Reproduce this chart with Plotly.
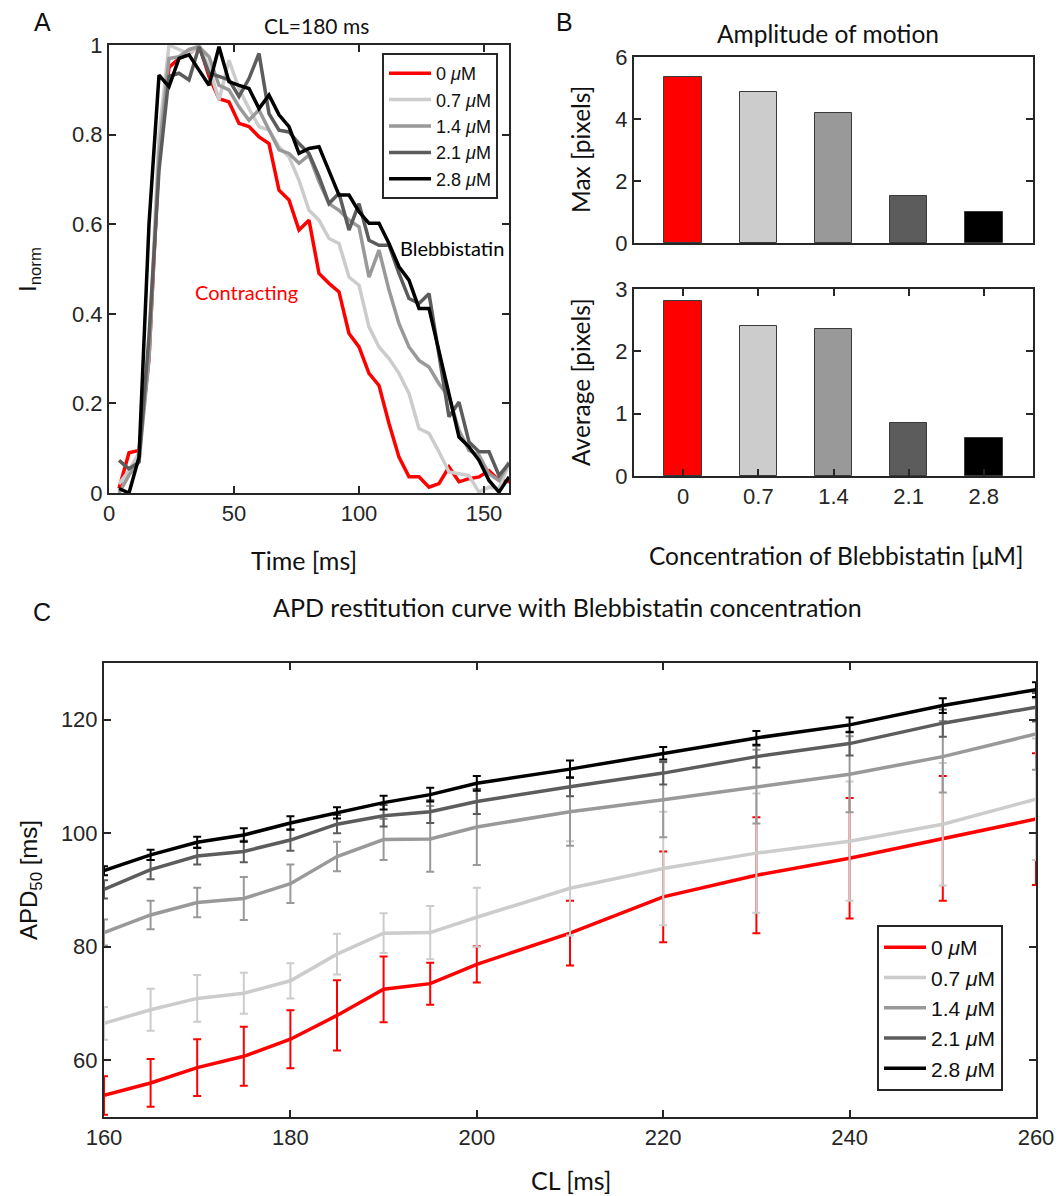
import plotly.graph_objects as go

W, H = 1061, 1196

# ---------------- Data ----------------
conc_labels = ["0", "0.7", "1.4", "2.1", "2.8"]
legend_names = ["0 <i>μ</i>M", "0.7 <i>μ</i>M", "1.4 <i>μ</i>M", "2.1 <i>μ</i>M", "2.8 <i>μ</i>M"]
colors = ["#FF0000", "#CCCCCC", "#999999", "#5C5C5C", "#000000"]

# Panel A: normalized intensity traces, CL = 180 ms
time_ms = list(range(4, 161, 4))
inorm_0 = [0.01, 0.09, 0.095, 0.30, 0.75, 0.95, 0.97, 0.98, 1.0, 0.93, 0.88, 0.873, 0.825, 0.818,
           0.795, 0.78, 0.676, 0.654, 0.587, 0.609, 0.49, 0.468, 0.449, 0.356, 0.326, 0.267, 0.24,
           0.155, 0.08, 0.036, 0.036, 0.013, 0.021, 0.058, 0.025, 0.032, 0.036, 0.05, 0.028, 0.025]
inorm_07 = [0.02, 0.05, 0.09, 0.32, 0.80, 1.0, 0.99, 0.98, 1.0, 0.95, 0.877, 0.966, 0.903, 0.858,
            0.818, 0.81, 0.773, 0.75, 0.698, 0.631, 0.609, 0.568, 0.557, 0.482, 0.464, 0.371, 0.326,
            0.30, 0.267, 0.222, 0.144, 0.133, 0.092, 0.047, 0.043, 0.039, 0.002, 0.013, 0.01, 0.066]
inorm_14 = [0.0, 0.04, 0.07, 0.30, 0.76, 0.97, 0.974, 0.99, 0.996, 0.974, 0.91, 0.90, 0.862, 0.832,
            0.855, 0.81, 0.766, 0.758, 0.736, 0.754, 0.695, 0.646, 0.631, 0.609, 0.594, 0.482, 0.542,
            0.453, 0.378, 0.326, 0.296, 0.281, 0.244, 0.214, 0.14, 0.095, 0.084, 0.043, 0.028, 0.069]
inorm_21 = [0.073, 0.054, 0.069, 0.35, 0.72, 0.93, 0.937, 0.922, 0.996, 0.937, 0.93, 0.922, 0.885, 0.925,
            0.981, 0.847, 0.81, 0.806, 0.78, 0.758, 0.706, 0.646, 0.669, 0.587, 0.646, 0.564, 0.553,
            0.553, 0.49, 0.434, 0.423, 0.445, 0.308, 0.17, 0.203, 0.114, 0.092, 0.092, 0.039, 0.066]
inorm_28 = [0.01, 0.0, 0.08, 0.60, 0.933, 0.907, 0.97, 0.978, 0.944, 0.91, 0.996, 0.918, 0.91, 0.903,
            0.858, 0.888, 0.844, 0.818, 0.758, 0.769, 0.773, 0.721, 0.665, 0.665, 0.628, 0.602, 0.602,
            0.557, 0.505, 0.475, 0.412, 0.412, 0.319, 0.222, 0.125, 0.103, 0.073, 0.028, 0.002, 0.036]
traces_a = [inorm_0, inorm_07, inorm_14, inorm_21, inorm_28]

# Panel B: amplitude of motion
max_pixels = [5.36, 4.875, 4.18, 1.52, 0.99]
avg_pixels = [2.80, 2.41, 2.357, 0.857, 0.616]

# Panel C: APD50 restitution
cl_ms = [160, 165, 170, 175, 180, 185, 190, 195, 200, 210, 220, 230, 240, 250, 260]
apd_0 = [53.8, 56.0, 58.7, 60.7, 63.7, 67.9, 72.5, 73.5, 76.9, 82.4, 88.8, 92.6, 95.6, 99.1, 102.5]
err_0 = [3.4, 4.2, 5.0, 5.2, 5.1, 6.2, 5.8, 3.7, 3.2, 5.7, 8.0, 10.2, 10.6, 11.0, 11.6]
apd_07 = [66.5, 68.9, 70.9, 71.8, 74.0, 78.7, 82.4, 82.5, 85.2, 90.3, 93.8, 96.5, 98.6, 101.6, 106.0]
err_07 = [2.9, 3.7, 4.1, 3.6, 3.1, 3.6, 3.5, 4.7, 5.2, 8.3, 10.0, 10.5, 10.5, 10.8, 10.7]
apd_14 = [82.5, 85.6, 87.8, 88.5, 91.1, 95.9, 98.9, 99.0, 101.1, 103.8, 105.9, 108.2, 110.4, 113.5, 117.5]
err_14 = [2.3, 2.5, 2.6, 3.8, 3.4, 2.6, 3.6, 5.8, 6.7, 6.0, 6.6, 6.5, 6.7, 6.3, 6.3]
apd_21 = [90.1, 93.6, 96.0, 96.8, 98.8, 101.6, 103.1, 103.8, 105.6, 108.2, 110.6, 113.5, 115.8, 119.4, 122.2]
err_21 = [1.6, 1.7, 1.5, 1.9, 1.9, 1.6, 1.9, 2.0, 2.2, 1.7, 2.0, 1.9, 2.1, 2.4, 2.5]
apd_28 = [93.4, 96.2, 98.4, 99.7, 101.8, 103.6, 105.4, 106.8, 108.8, 111.3, 114.1, 116.8, 119.1, 122.5, 125.3]
err_28 = [0.8, 0.9, 1.0, 1.2, 1.2, 1.0, 1.2, 1.2, 1.3, 1.5, 1.1, 1.2, 1.3, 1.3, 1.3]
apd_series = [apd_0, apd_07, apd_14, apd_21, apd_28]
err_series = [err_0, err_07, err_14, err_21, err_28]

# ---------------- Figure ----------------
AX = "#262626"
SANS = "Liberation Sans"
LABFONT = "Lato"
TICKFONT = dict(family=SANS, size=22, color="#262626")


def xd(x0, x1):
    return [x0 / W, x1 / W]


def yd(y_top, y_bot):
    return [1 - y_bot / H, 1 - y_top / H]


fig = go.Figure()

# Panel A lines
for vals, name, col in zip(traces_a, legend_names, colors):
    fig.add_trace(go.Scatter(x=time_ms, y=vals, mode="lines", name=name,
                             line=dict(color=col, width=3.5), xaxis="x", yaxis="y",
                             legend="legend"))

# Panel B bars
bar_pos = list(range(len(conc_labels)))
fig.add_trace(go.Bar(x=bar_pos, y=max_pixels, width=0.5,
                     marker=dict(color=colors, line=dict(color="#3a3a3a", width=1)),
                     xaxis="x2", yaxis="y2", showlegend=False))
fig.add_trace(go.Bar(x=bar_pos, y=avg_pixels, width=0.5,
                     marker=dict(color=colors, line=dict(color="#3a3a3a", width=1)),
                     xaxis="x3", yaxis="y3", showlegend=False))

# Panel C lines with error bars
for vals, errs, name, col in zip(apd_series, err_series, legend_names, colors):
    fig.add_trace(go.Scatter(x=cl_ms, y=vals, mode="lines", name=name,
                             line=dict(color=col, width=3.5),
                             error_y=dict(type="data", array=errs, color=col, thickness=2, width=4),
                             xaxis="x4", yaxis="y4", legend="legend2"))

common = dict(showline=True, linecolor=AX, linewidth=2, mirror="ticks", ticks="inside",
              tickcolor=AX, tickwidth=2, ticklen=7, showgrid=False, zeroline=False,
              tickfont=TICKFONT, automargin=False)

fig.update_layout(
    width=W, height=H, margin=dict(l=0, r=0, t=0, b=0, autoexpand=False),
    paper_bgcolor="white", plot_bgcolor="white",
    xaxis=dict(domain=xd(109, 509), range=[0, 160], tickvals=[0, 50, 100, 150], anchor="y", **common),
    yaxis=dict(domain=yd(45, 493), range=[0, 1], tickvals=[0, 0.2, 0.4, 0.6, 0.8, 1],
               ticktext=["0", "0.2", "0.4", "0.6", "0.8", "1"], anchor="x", **common),
    xaxis2=dict(domain=xd(634, 1033), range=[-0.655, 4.655], tickvals=bar_pos, showticklabels=False,
                anchor="y2", **{**common, "ticks": ""}),
    yaxis2=dict(domain=yd(57, 243), range=[0, 6], tickvals=[0, 2, 4, 6], anchor="x2", **common),
    xaxis3=dict(domain=xd(634, 1033), range=[-0.655, 4.655], tickvals=bar_pos, ticktext=conc_labels,
                anchor="y3", **common),
    yaxis3=dict(domain=yd(289, 476), range=[0, 3], tickvals=[0, 1, 2, 3], anchor="x3", **common),
    xaxis4=dict(domain=xd(104, 1036), range=[160, 260], tickvals=[160, 180, 200, 220, 240, 260],
                anchor="y4", **common),
    yaxis4=dict(domain=yd(663, 1117), range=[50, 130], tickvals=[60, 80, 100, 120], anchor="x4", **common),
    bargap=0,
    legend=dict(x=382 / W, y=1 - 53 / H, xanchor="left", yanchor="top", bgcolor="white",
                bordercolor=AX, borderwidth=2, font=dict(family=SANS, size=18, color="#111"),
                itemwidth=42, tracegroupgap=0),
    legend2=dict(x=877 / W, y=1 - 925 / H, xanchor="left", yanchor="top", bgcolor="white",
                 bordercolor=AX, borderwidth=2, font=dict(family=SANS, size=21, color="#111"),
                 itemwidth=42, tracegroupgap=0),
)


def ann(text, x, y, size=20, color="#111", family=LABFONT, angle=0, xanchor="center", yanchor="middle"):
    fig.add_annotation(text=text, x=x / W, y=1 - y / H, xref="paper", yref="paper", showarrow=False,
                       font=dict(family=family, size=size, color=color), textangle=angle,
                       xanchor=xanchor, yanchor=yanchor)


ann("A", 42, 22, size=25, family=SANS)
ann("B", 564, 22, size=25, family=SANS)
ann("C", 42, 612, size=25, family=SANS)
ann("CL=180 ms", 316, 25, size=21)
ann("Time [ms]", 304, 560, size=25)
ann("I<sub>norm</sub>", 30, 270, size=24, family=SANS, angle=-90)
ann("Contracting", 246, 292, size=20, color="#FF0000")
ann("Blebbistatin", 452, 248, size=20, color="#000")
ann("Amplitude of motion", 828, 34, size=24.5)
ann("Max [pixels]", 580, 150, size=24.5, angle=-90)
ann("Average [pixels]", 580, 382, size=24.5, angle=-90)
ann("Concentration of Blebbistatin [μM]", 836, 555, size=24.5)
ann("APD restitution curve with Blebbistatin concentration", 567, 607, size=25)
ann("CL [ms]", 571, 1180, size=25)
ann("APD<sub>50</sub> [ms]", 30, 880, size=24, family=SANS, angle=-90)

fig.write_html("out.html", post_script="document.body.style.margin='0';",
               config={"displayModeBar": False})
